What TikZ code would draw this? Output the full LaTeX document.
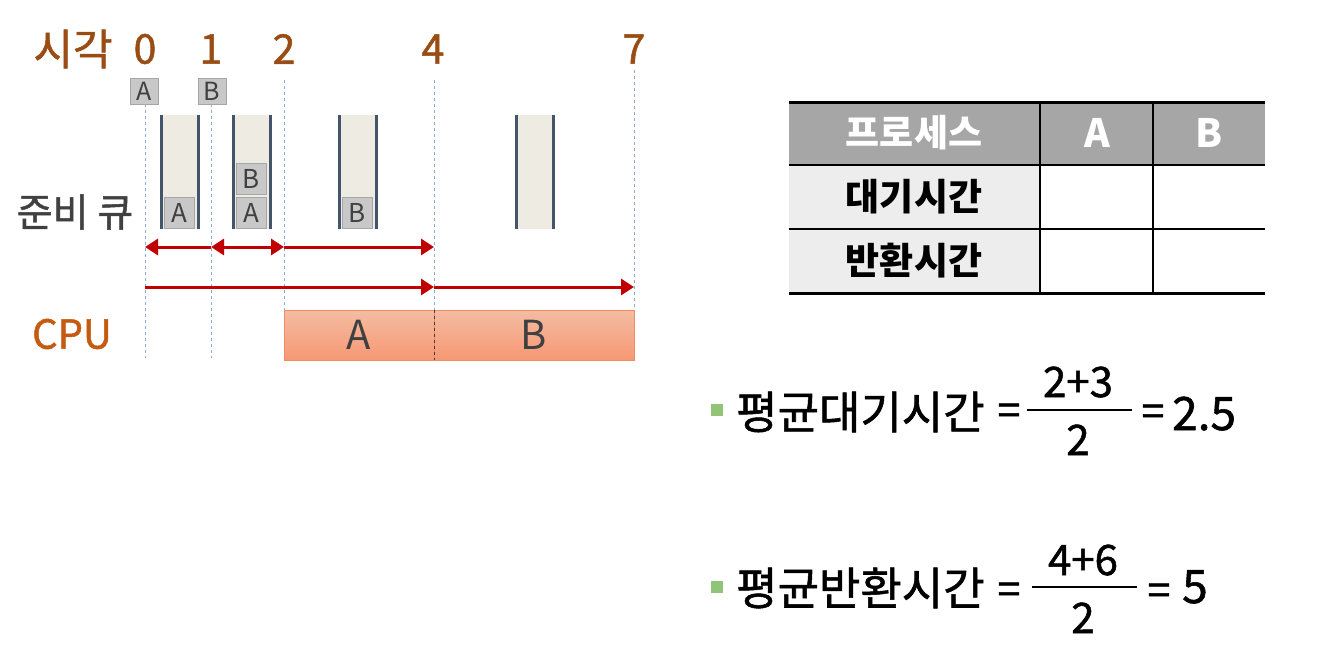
\documentclass[tikz,border=0pt]{standalone}
\usepackage{fontspec}
\setmainfont{Noto Sans CJK KR}
\newfontfamily\medfont[FakeBold=1.2]{Noto Sans CJK KR}
\usetikzlibrary{arrows.meta}
\definecolor{timebrown}{RGB}{153,76,20}
\definecolor{cpuorange}{RGB}{197,90,17}
\definecolor{darktext}{RGB}{64,64,64}
\definecolor{qfill}{RGB}{238,236,226}
\definecolor{qside}{RGB}{68,84,106}
\definecolor{boxgray}{RGB}{200,200,200}
\definecolor{guideblue}{RGB}{140,170,215}
\definecolor{arrred}{RGB}{192,0,0}
\definecolor{cpufillA}{RGB}{245,188,162}
\definecolor{cpufillB}{RGB}{246,152,116}
\definecolor{cpuedge}{RGB}{238,140,100}
\definecolor{headgray}{RGB}{166,166,166}
\definecolor{rowgray}{RGB}{237,237,237}
\definecolor{bulletgreen}{RGB}{146,196,120}
\newcommand{\readyq}[1]{%
  % #1 = left x of the column
  \fill[qfill] (#1,115) rectangle ++(37,114);
  \draw[qside, line width=3pt] (#1,115) -- ++(0,114) (#1+37,115) -- ++(0,114);
}
\newcommand{\bigfont}[1]{\fontsize{#1}{#1}\selectfont}

\begin{document}
\begin{tikzpicture}[x=1pt, y=-1pt,
  tick/.style={font=\medfont\bigfont{41}, text=timebrown},
  pbox/.style={draw=black!35, fill=boxgray, line width=0.8pt, inner sep=0pt,
               minimum width=28pt, minimum height=26pt, font=\bigfont{25}, text=darktext},
  qitem/.style={pbox, minimum width=30pt, minimum height=31pt, font=\bigfont{26}},
  guide/.style={guideblue, dashed, line width=0.8pt},
  redarr/.style={arrred, line width=3pt},
  cpubar/.style={draw=cpuedge, top color=cpufillA, bottom color=cpufillB,
                 inner sep=0pt, minimum height=50pt, font=\bigfont{40}, text=darktext},
  thead/.style={font=\bfseries\bigfont{37}, text=white},
  tlabel/.style={font=\bfseries\bigfont{37}, text=black},
  frm/.style={font=\medfont\bigfont{41}, text=black, inner sep=0pt, anchor=base},
  frmword/.style={font=\medfont\bigfont{45}, text=black, inner sep=0pt, anchor=west},
  frmnum/.style={font=\medfont\bigfont{46}, text=black, inner sep=0pt, anchor=base west}]
\useasboundingbox (0,0) rectangle (1328,656);

% --- time axis -------------------------------------------------------------
\node[tick, font=\medfont\bigfont{43}] (sigak) at (73,49) {시각};
\foreach \t/\x in {0/145, 1/211, 2/284, 4/433, 7/634}
  \node[tick] (t\t) at (\x,49) {\t};
\foreach \x/\ys in {145/104, 211/104, 284/80, 434/80, 634/70}
  \draw[guide] (\x,\ys) -- (\x,358);

% arrivals
\node[pbox] (arrA) at (144,91) {A};
\node[pbox] (arrB) at (212,91) {B};

% --- ready queue -------------------------------------------------------------
\node[font=\medfont\bigfont{39}, text=darktext] (rq) at (75,212) {준비 큐};
\readyq{161}
\readyq{233}
\readyq{339}
\readyq{516}
\node[qitem] (q1a) at (179,212.5) {A};
\node[qitem] (q2a) at (251,212.5) {A};
\node[qitem] (q2b) at (251,179) {B};
\node[qitem] (q3b) at (357,212.5) {B};

% --- waiting / turnaround arrows ----------------------------------------------
\coordinate (w0) at (145,247);
\coordinate (w1) at (211,247);
\coordinate (w2) at (284,247);
\coordinate (w4) at (434,247);
\coordinate (r0) at (145,287);
\coordinate (r4) at (434,287);
\coordinate (r7) at (634,287);
\draw[redarr, {Triangle[length=13pt,width=16pt]}-] (w0) -- (w1);
\draw[redarr, {Triangle[length=13pt,width=16pt]}-{Triangle[length=13pt,width=16pt]}] (w1) -- (w2);
\draw[redarr, -{Triangle[length=13pt,width=16pt]}] (w2) -- (w4);
\draw[redarr, -{Triangle[length=13pt,width=16pt]}] (r0) -- (r4);
\draw[redarr, -{Triangle[length=13pt,width=16pt]}] (r4) -- (r7);

% --- cpu -----------------------------------------------------------------------
\node[font=\medfont\bigfont{40}, text=cpuorange] (cpu) at (72,334) {CPU};
\node[cpubar, minimum width=150pt] (cpuA) at (359,335) {A};
\node[cpubar, minimum width=200pt] (cpuB) at (534,335) {B};
\draw[darktext, dashed, line width=0.6pt] (cpuA.north east) -- (cpuA.south east);

% --- table -----------------------------------------------------------------------
\fill[headgray] (789,102) rectangle (1265,165);
\fill[rowgray] (789,165) rectangle (1040,293);
\draw[line width=1.5pt] (789,165) -- (1265,165) (789,229) -- (1265,229)
  (1040,102) -- (1040,293) (1153,102) -- (1153,293);
\draw[line width=3pt] (789,102) -- (1265,102) (789,293) -- (1265,293);
\node[thead] (hproc) at (914,133) {프로세스};
\node[thead, font=\bfseries\bigfont{39}] (hA) at (1097,133) {A};
\node[thead, font=\bfseries\bigfont{39}] (hB) at (1209,133) {B};
\node[tlabel] (lwait) at (914,197) {대기시간};
\node[tlabel] (lturn) at (914,261) {반환시간};

% --- averages --------------------------------------------------------------------
\fill[bulletgreen] (711,404) rectangle (723,416);
\node[frmword] (avgw) at (736,412) {평균대기시간};
\node[frm] (eqw) at (1009,425) {=};
\draw[line width=1.5pt] (1027,410) -- (1132,410);
\node[frm, font=\medfont\bigfont{42}] (numw) at (1078,397) {2+3};
\node[frm, font=\medfont\bigfont{42}] (denw) at (1078,455) {2};
\node[frm] (eq2w) at (1153,426) {=};
\node[frmnum] (resw) at (1172,430) {2.5};

\fill[bulletgreen] (711,581) rectangle (723,593);
\node[frmword] (avgt) at (736,588) {평균반환시간};
\node[frm] (eqt) at (1009,604) {=};
\draw[line width=1.5pt] (1032,587) -- (1137,587);
\node[frm, font=\medfont\bigfont{42}] (numt) at (1083,575) {4+6};
\node[frm, font=\medfont\bigfont{42}] (dent) at (1083,633) {2};
\node[frm] (eq2t) at (1159,605) {=};
\node[frmnum] (rest) at (1182,603) {5};

\end{tikzpicture}
\end{document}
